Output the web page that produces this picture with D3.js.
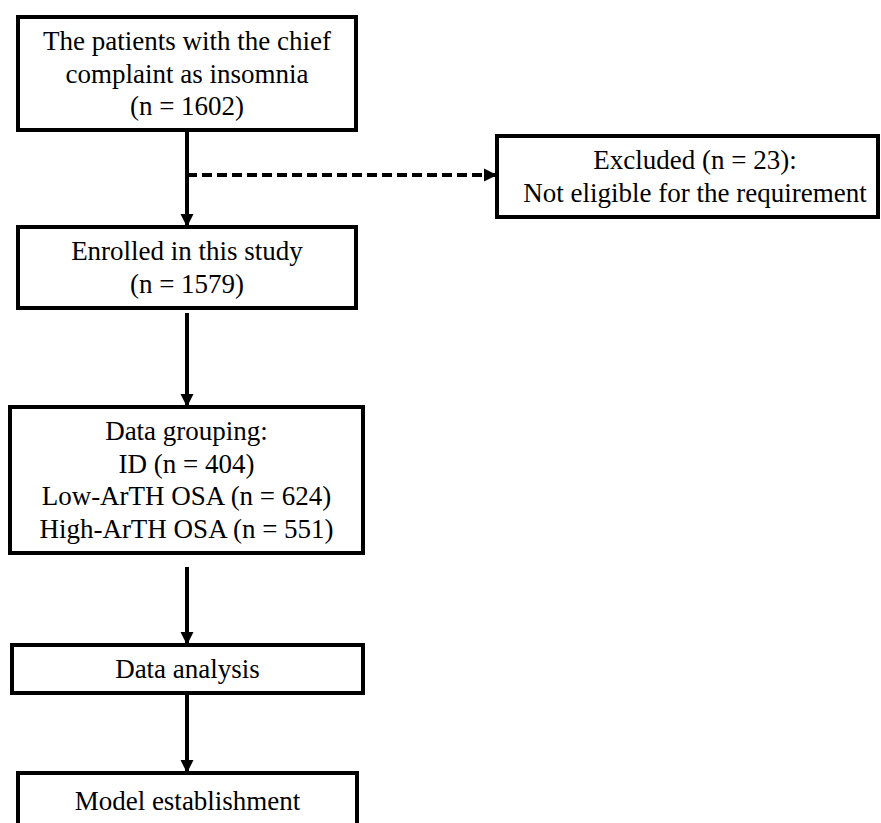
<!DOCTYPE html>
<html>
<head>
<meta charset="utf-8">
<script src="https://cdn.jsdelivr.net/npm/d3@7"></script>
<style>
  html, body { margin: 0; padding: 0; background: #fff; }
  svg { display: block; }
</style>
</head>
<body>
<svg id="chart" width="881" height="823"></svg>
<script>
// ---- Data ----
const stepIds = ["screened", "enrolled", "grouping", "analysis", "model"];
const stepLabels = [
  ["The patients with the chief", "complaint as insomnia", "(n = 1602)"],
  ["Enrolled in this study", "(n = 1579)"],
  ["Data grouping:", "ID (n = 404)", "Low-ArTH OSA (n = 624)", "High-ArTH OSA (n = 551)"],
  ["Data analysis"],
  ["Model establishment"]
];
const excludedLabel = ["Excluded (n = 23):", "Not eligible for the requirement"];
const counts = [1602, 1579, 1579, 1579, 1579];
const groupNames = ["ID", "Low-ArTH OSA", "High-ArTH OSA"];
const groupCounts = [404, 624, 551];

// ---- Layout (geometry, separate from data) ----
const boxes = {
  screened: { x0: 18, x1: 356, y0: 17, y1: 130 },
  enrolled: { x0: 18, x1: 356, y0: 227, y1: 308 },
  grouping: { x0: 10, x1: 363, y0: 407, y1: 553 },
  analysis: { x0: 12, x1: 363, y0: 645, y1: 693 },
  model:    { x0: 18, x1: 357, y0: 773, y1: 832 },
  excluded: { x0: 497, x1: 878, y0: 136, y1: 217, tx: 695 }
};
const spineX = 187;
const arrows = [
  { y0: 130, y1: 227 },
  { y0: 313, y1: 407 },
  { y0: 567, y1: 645 },
  { y0: 693, y1: 773 }
];
const dashY = 175;

const svg = d3.select("#chart");
const font = "'Liberation Serif', 'Times New Roman', serif";
const fontSize = 27, lineH = 32.5;

svg.append("defs").append("marker")
  .attr("id", "arrow")
  .attr("viewBox", "0 0 10 10")
  .attr("refX", 10).attr("refY", 5)
  .attr("markerWidth", 3.3).attr("markerHeight", 3.3)
  .attr("markerUnits", "strokeWidth")
  .attr("orient", "auto")
  .append("path").attr("d", "M0,0 L10,5 L0,10 Z").attr("fill", "#000");

const allBoxes = stepIds.map((id, i) => ({ id, lines: stepLabels[i], ...boxes[id] }))
  .concat([{ id: "excluded", lines: excludedLabel, ...boxes.excluded }]);

// connectors
svg.selectAll("line.arrow").data(arrows).join("line")
  .attr("class", "arrow")
  .attr("x1", spineX).attr("x2", spineX)
  .attr("y1", d => d.y0).attr("y2", d => d.y1)
  .attr("stroke", "#000").attr("stroke-width", 4)
  .attr("marker-end", "url(#arrow)");

svg.append("line")
  .attr("x1", spineX).attr("x2", boxes.excluded.x0)
  .attr("y1", dashY).attr("y2", dashY)
  .attr("stroke", "#000").attr("stroke-width", 4)
  .attr("stroke-dasharray", "10,5")
  .attr("marker-end", "url(#arrow)");

// boxes
const g = svg.selectAll("g.box").data(allBoxes).join("g").attr("class", "box");
g.append("rect")
  .attr("x", d => d.x0).attr("y", d => d.y0)
  .attr("width", d => d.x1 - d.x0).attr("height", d => d.y1 - d.y0)
  .attr("fill", "#fff").attr("stroke", "#000").attr("stroke-width", 4);

g.each(function (d) {
  const cx = d.tx != null ? d.tx : (d.x0 + d.x1) / 2;
  const cy = d.id === "model" ? 801 : (d.y0 + d.y1) / 2;
  const n = d.lines.length;
  d3.select(this).selectAll("text").data(d.lines).join("text")
    .attr("x", cx)
    .attr("y", (t, i) => cy + (i - (n - 1) / 2) * lineH + 9)
    .attr("text-anchor", "middle")
    .attr("font-family", font)
    .attr("font-size", fontSize)
    .attr("fill", "#000")
    .text(t => t);
});
</script>
</body>
</html>
